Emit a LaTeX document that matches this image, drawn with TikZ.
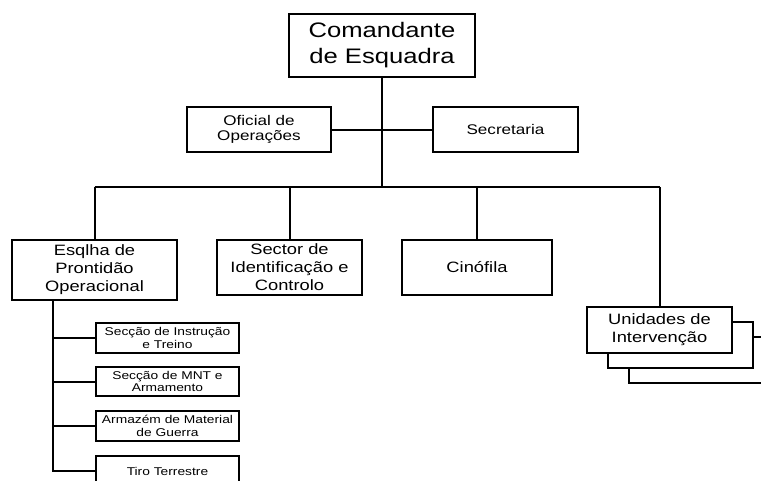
\documentclass[tikz,border=0pt]{standalone}
\usepackage{fontspec}
\setmainfont[FakeStretch=1.22]{Liberation Sans}
\begin{document}
\begin{tikzpicture}[x=1pt,y=-1pt,
  box/.style={draw=black,line width=2pt,fill=white,inner sep=0pt,align=center,text=black},
  big/.style={box,font=\fontsize{21}{26}\selectfont},
  mid/.style={box,font=\fontsize{15}{18}\selectfont},
  sml/.style={box,font=\fontsize{14}{15.5}\selectfont},
  sub/.style={box,font=\fontsize{11.3}{12.7}\selectfont,minimum width=143pt,minimum height=30pt},
  conn/.style={line width=2pt,draw=black}]
\useasboundingbox (0,0) rectangle (761,480);
\clip (0,0) rectangle (761,480);
\fill[white] (0,0) rectangle (761,480);
% top
\node[big,minimum width=186pt,minimum height=63pt] (cmd) at (382,45.5) {Comandante\\de Esquadra};
\node[sml,minimum width=144pt,minimum height=45pt] (ofi) at (259,129.5) {Oficial de\\Operações};
\node[sml,minimum width=145pt,minimum height=45pt] (sec) at (505.5,129.5) {Secretaria};
\coordinate (bus) at (382,187);
\coordinate (busl) at (94.5,187);
\coordinate (busr) at (659.5,187);
\draw[conn] (cmd.south) -- (bus);
\draw[conn] (ofi.east) -- (sec.west);
\draw[conn] (busl) -- (busr);
% level 2
\node[mid,minimum width=165pt,minimum height=60pt] (esq) at (94.5,270) {Esqlha de\\Prontidão\\Operacional};
\node[mid,minimum width=145pt,minimum height=55pt] (set) at (289.5,267.5) {Sector de\\Identificação e\\Controlo};
\node[mid,minimum width=150pt,minimum height=55pt] (cin) at (477,267.5) {Cinófila};
% stacked boxes
\node[box,minimum width=145pt,minimum height=46pt] (sh2) at (701.5,360) {};
\node[box,minimum width=145pt,minimum height=46pt] (sh1) at (680.5,345) {};
\node[mid,minimum width=145pt,minimum height=46pt] (uni) at (659.5,330) {Unidades de\\Intervenção};
\draw[conn] (busl) -- (esq.north);
\draw[conn] (set.north |- bus) -- (set.north);
\draw[conn] (cin.north |- bus) -- (cin.north);
\draw[conn] (busr) -- (uni.north);
% sub-items
\node[sub] (s1) at (167.5,338) {Secção de Instrução\\e Treino};
\node[sub,minimum height=29pt] (s2) at (167.5,381.5) {Secção de MNT e\\Armamento};
\node[sub] (s3) at (167.5,426) {Armazém de Material\\de Guerra};
\node[sub] (s4) at (167.5,471) {Tiro Terrestre};
\coordinate (spine) at (53,300);
\draw[conn] (spine) -- (53,471) -- (s4.west);
\draw[conn] (53,338) -- (s1.west);
\draw[conn] (53,381.5) -- (s2.west);
\draw[conn] (53,426) -- (s3.west);
\end{tikzpicture}
\end{document}
